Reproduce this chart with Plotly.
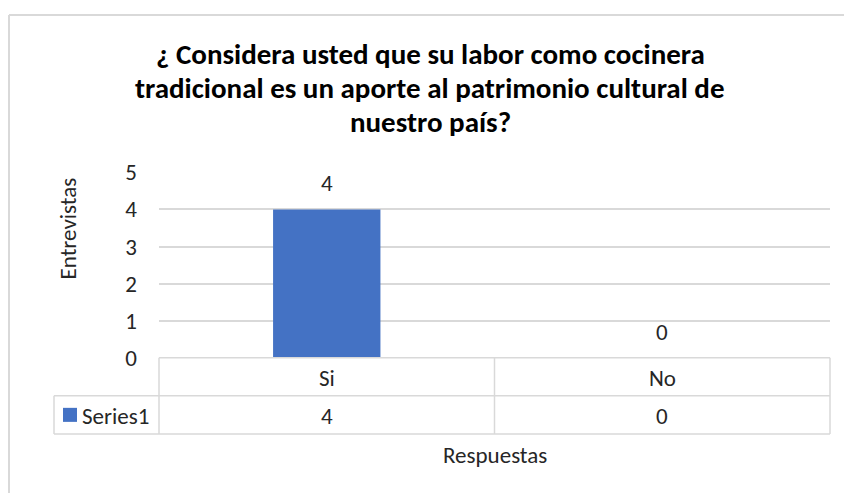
import plotly.graph_objects as go

W, H = 844, 493

title_lines = ["¿ Considera usted que su labor como cocinera",
               "tradicional es un aporte al patrimonio cultural de",
               "nuestro país?"]
categories = ["Si", "No"]
series_name = "Series1"
values = [4, 0]
y_title = "Entrevistas"
x_title = "Respuestas"

FONT = "Carlito, Calibri, Liberation Sans, Arial, sans-serif"
BLUE = "#4472C4"
GRID = "#d9d9d9"
TXT = "#262626"
FS = 23

# visible vertical band of the photographed page (calibrated)
VY0, VY1 = 14, 478

def px(x):
    return x / W

def py(y):
    return 1 - (y - VY0) / (VY1 - VY0)

PL, PR, PT, PB = 159, 830, 172, 357
ROW1, ROW2 = 395, 433
TL = 54

fig = go.Figure()
fig.add_trace(go.Bar(
    x=categories, y=values, name=series_name,
    marker=dict(color=BLUE, line=dict(width=0)),
    width=0.32,
    cliponaxis=False,
))

shapes = []
def line(x0, y0, x1, y1, color=GRID, width=1.5):
    shapes.append(dict(type="line", xref="paper", yref="paper",
                       x0=x0, y0=y0, x1=x1, y1=y1,
                       line=dict(color=color, width=width)))

# outer chart border (top + left visible)
line(px(9), py(15), px(W + 5), py(15), width=2)
line(px(9), py(15), px(9), py(H + 20), width=2)

# data table
line(px(PL), py(PB), px(PR), py(PB))
line(px(TL), py(ROW1), px(PR), py(ROW1))
line(px(TL), py(ROW2), px(PR), py(ROW2))
line(px(TL), py(ROW1), px(TL), py(ROW2))
line(px(PL), py(PB), px(PL), py(ROW2))
line(px(PR), py(PB), px(PR), py(ROW2))
for i in range(len(categories) - 1):
    shapes.append(dict(type="line", xref="x", yref="paper",
                       x0=i + 0.5, x1=i + 0.5, y0=py(PB), y1=py(ROW2),
                       line=dict(color=GRID, width=1.5)))

# legend key
shapes.append(dict(type="rect", xref="paper", yref="paper",
                   x0=px(63), x1=px(77), y0=py(407), y1=py(421),
                   fillcolor=BLUE, line=dict(width=0)))

annotations = []
for i, t in enumerate(title_lines):
    annotations.append(dict(text="<b>" + t + "</b>", x=px(430), y=py(54 + 34 * i),
                            xref="paper", yref="paper",
                            showarrow=False, xanchor="center", yanchor="middle",
                            font=dict(family=FONT, size=29, color="#000000")))
for c, v in zip(categories, values):
    annotations.append(dict(text=str(v), x=c, y=v, xref="x", yref="y",
                            showarrow=False, xanchor="center", yanchor="bottom", yshift=10,
                            font=dict(family=FONT, size=FS, color=TXT)))
    annotations.append(dict(text=c, x=c, y=py((PB + ROW1) / 2 + 1), xref="x", yref="paper",
                            showarrow=False, xanchor="center", yanchor="middle",
                            font=dict(family=FONT, size=FS, color=TXT)))
    annotations.append(dict(text=str(v), x=c, y=py((ROW1 + ROW2) / 2 + 1), xref="x", yref="paper",
                            showarrow=False, xanchor="center", yanchor="middle",
                            font=dict(family=FONT, size=FS, color=TXT)))
annotations.append(dict(text=series_name, x=px(80), y=py(415), xref="paper", yref="paper",
                        showarrow=False, xanchor="left", yanchor="middle",
                        font=dict(family=FONT, size=FS, color=TXT)))
annotations.append(dict(text=x_title, x=px((PL + PR) / 2), y=py(454), xref="paper", yref="paper",
                        showarrow=False, xanchor="center", yanchor="middle",
                        font=dict(family=FONT, size=FS, color=TXT)))
annotations.append(dict(text=y_title, x=px(68), y=py(228), xref="paper", yref="paper",
                        showarrow=False, xanchor="center", yanchor="middle", textangle=-90,
                        font=dict(family=FONT, size=FS, color=TXT)))

fig.update_layout(
    width=W, height=H,
    margin=dict(l=0, r=0, t=0, b=0),
    paper_bgcolor="white", plot_bgcolor="white",
    showlegend=False,
    shapes=shapes, annotations=annotations,
    xaxis=dict(domain=[px(PL), px(PR)], range=[-0.5, len(categories) - 0.5],
               showticklabels=False, showgrid=False, zeroline=False, showline=False, ticks=""),
    yaxis=dict(domain=[py(PB), py(PT)], range=[0, 5], dtick=1,
               showgrid=True, gridcolor=GRID, gridwidth=1.5, zeroline=False,
               showline=False, ticks="", ticklabelstandoff=21,
               tickfont=dict(family=FONT, size=FS, color=TXT)),
)

fig.write_html("out.html", config={"displayModeBar": False},
               post_script="document.body.style.margin='0';document.body.style.overflow='hidden';")
